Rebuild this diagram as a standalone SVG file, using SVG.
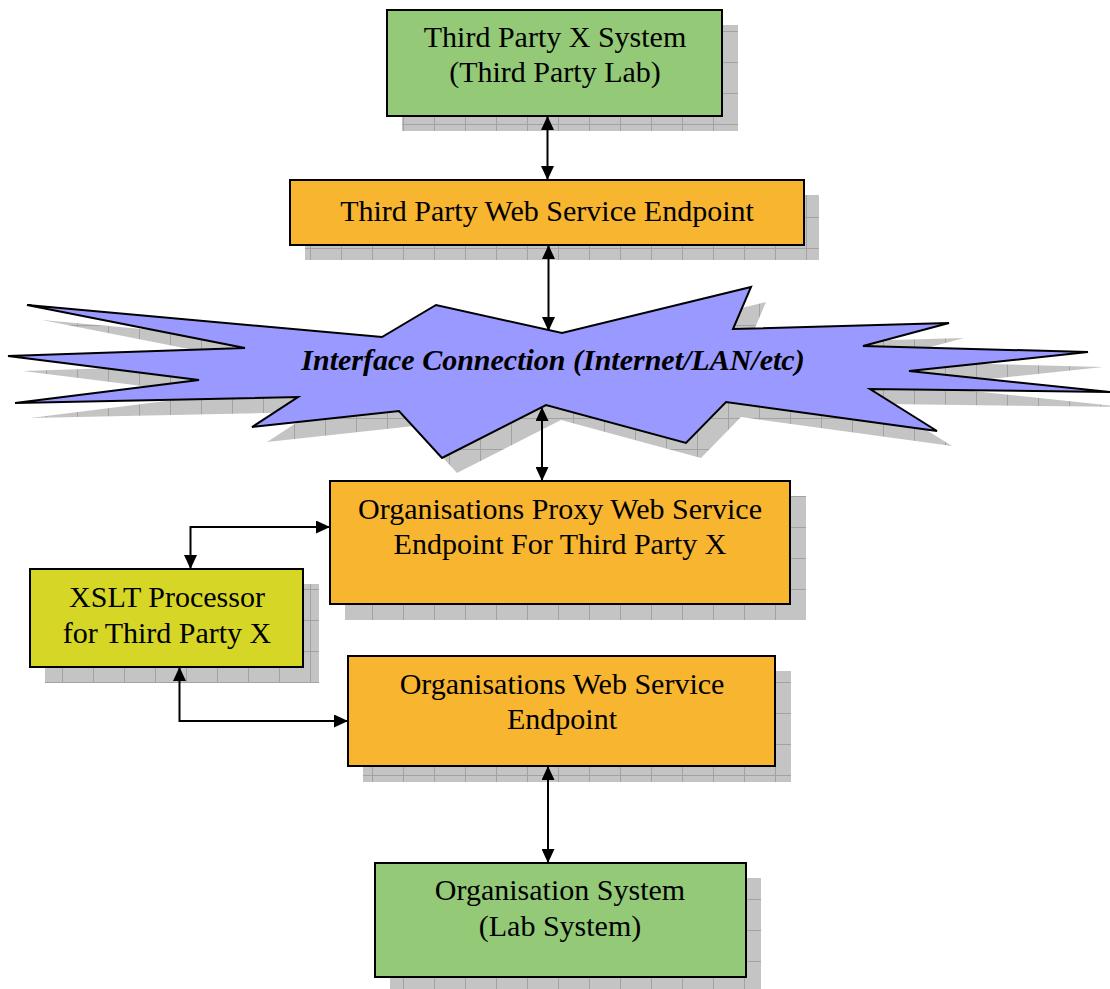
<svg xmlns="http://www.w3.org/2000/svg" width="1110" height="989" viewBox="0 0 1110 989">
  <defs>
    <!-- gridded grey drop shadow fill -->
    <pattern id="shadowGrid" patternUnits="userSpaceOnUse" width="31" height="31">
      <rect width="31" height="31" fill="#c4c4c4"/>
      <path d="M0.5,0 V31 M0,0.5 H31" stroke="#a2a2a2" stroke-width="1" fill="none"/>
    </pattern>
    <marker id="arrow" viewBox="0 0 14 13" refX="13" refY="6.5" markerWidth="14" markerHeight="13" markerUnits="userSpaceOnUse" orient="auto-start-reverse">
      <path d="M0,0 L14,6.5 L0,13 Z" fill="#000"/>
    </marker>
  </defs>
  <style>
    .shadow { fill: url(#shadowGrid); }
    .box { stroke: #000; stroke-width: 2; }
    .green { fill: #93C977; }
    .orange { fill: #F7B530; }
    .lime { fill: #D6D626; }
    .burst { fill: #9999FF; stroke: #000; stroke-width: 2; stroke-linejoin: miter; }
    .label { font-family: "Liberation Serif", "Times New Roman", serif; font-size: 30px; fill: #000; text-anchor: middle; }
    .cloud-label { font-weight: bold; font-style: italic; }
    .link { fill: none; stroke: #000; stroke-width: 2; marker-start: url(#arrow); marker-end: url(#arrow); }
  </style>

  <!-- Third party system -->
  <g id="third-party-system">
    <rect class="shadow" x="402" y="25" width="336" height="106"/>
    <rect class="box green" x="387" y="10" width="335" height="106"/>
    <text class="label" x="555" y="47">Third Party X System</text>
    <text class="label" x="555" y="82">(Third Party Lab)</text>
  </g>

  <!-- Third party endpoint -->
  <g id="third-party-endpoint">
    <rect class="shadow" x="305" y="195" width="514" height="65"/>
    <rect class="box orange" x="290" y="180" width="514" height="65"/>
    <text class="label" x="547" y="221">Third Party Web Service Endpoint</text>
  </g>

  <!-- Network burst -->
  <g id="interface-connection">
    <polygon class="shadow" transform="translate(15,15)" points="27,305 382,337 436,305 562,333 751,287 733,329 949,323 863,346 1088,352 909,371 1110,392 870,389 937,431 726,402 686,443 546,405 442,458 399,411 252,427 298,397 15,403 199,380 8,356 245,348"/>
    <polygon class="burst" points="27,305 382,337 436,305 562,333 751,287 733,329 949,323 863,346 1088,352 909,371 1110,392 870,389 937,431 726,402 686,443 546,405 442,458 399,411 252,427 298,397 15,403 199,380 8,356 245,348"/>
    <text class="label cloud-label" x="553" y="370">Interface Connection (Internet/LAN/etc)</text>
  </g>

  <!-- Proxy endpoint -->
  <g id="proxy-endpoint">
    <rect class="shadow" x="345" y="496" width="461" height="124"/>
    <rect class="box orange" x="330" y="481" width="460" height="123"/>
    <text class="label" x="560" y="519">Organisations Proxy Web Service</text>
    <text class="label" x="560" y="554">Endpoint For Third Party X</text>
  </g>

  <!-- XSLT processor -->
  <g id="xslt-processor">
    <rect class="shadow" x="45" y="584" width="274" height="99"/>
    <rect class="box lime" x="30" y="569" width="273" height="98"/>
    <text class="label" x="167" y="607">XSLT Processor</text>
    <text class="label" x="167" y="643">for Third Party X</text>
  </g>

  <!-- Organisation endpoint -->
  <g id="org-endpoint">
    <rect class="shadow" x="363" y="671" width="428" height="111"/>
    <rect class="box orange" x="348" y="656" width="427" height="110"/>
    <text class="label" x="562" y="694">Organisations Web Service</text>
    <text class="label" x="562" y="729">Endpoint</text>
  </g>

  <!-- Organisation system -->
  <g id="org-system">
    <rect class="shadow" x="390" y="878" width="371" height="114"/>
    <rect class="box green" x="375" y="863" width="371" height="114"/>
    <text class="label" x="560" y="900">Organisation System</text>
    <text class="label" x="560" y="936">(Lab System)</text>
  </g>

  <!-- Connectors -->
  <g id="connectors">
    <path class="link" d="M547.5,117 V179"/>
    <path class="link" d="M548.5,246 V330"/>
    <path class="link" d="M542,408 V480"/>
    <path class="link" d="M190.5,568 V527 H329"/>
    <path class="link" d="M179.5,668 V721 H347"/>
    <path class="link" d="M548,767 V862"/>
  </g>
</svg>
